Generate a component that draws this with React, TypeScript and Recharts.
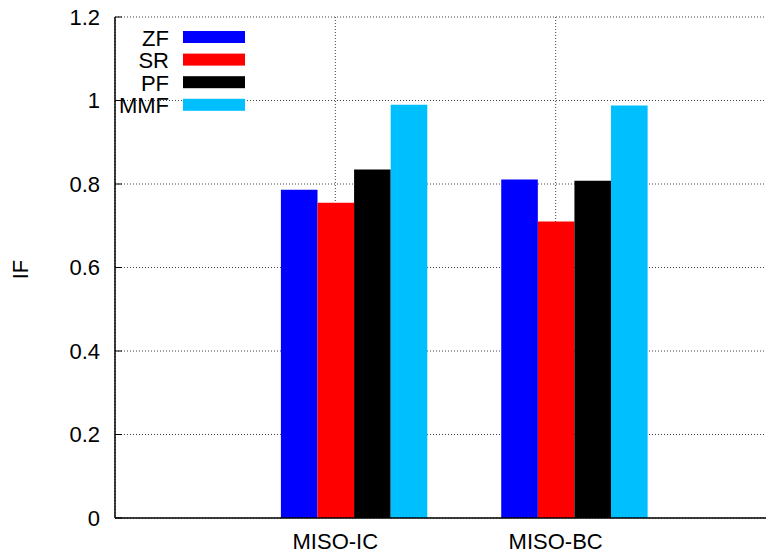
import React from "react";
import { BarChart, Bar, XAxis, YAxis, CartesianGrid } from "recharts";

const categories = ["MISO-IC", "MISO-BC"];
const seriesNames = ["ZF", "SR", "PF", "MMF"];
const zf = [0.786, 0.811];
const sr = [0.755, 0.71];
const pf = [0.835, 0.808];
const mmf = [0.99, 0.988];
const yTicks = [0, 0.2, 0.4, 0.6, 0.8, 1, 1.2];

const COLORS = ["#0000ff", "#ff0000", "#000000", "#00bfff"];
const FONT = "'Liberation Sans', Arial, Helvetica, sans-serif";
const FS = 22;

const data = categories.map((c, i) => ({ x: i, ZF: zf[i], SR: sr[i], PF: pf[i], MMF: mmf[i] }));

// bars sit a bit right of the category tick, like the gnuplot original
const SHIFT = 0.085;

const KeyBox = () => (
  <svg width={766} height={554} style={{ position: "absolute", left: 0, top: 0, pointerEvents: "none" }}>
    {seriesNames.map((name, i) => {
      const cy = 37 + i * 22.6;
      return (
        <g key={name}>
          <text x={169} y={cy + 1} textAnchor="end" dominantBaseline="central" fontSize={FS} fontFamily={FONT} fill="#000">
            {name}
          </text>
          <rect x={183} y={cy - 6} width={62} height={12} fill={COLORS[i]} />
        </g>
      );
    })}
  </svg>
);

const App = () => {
  const tickStyle = { fill: "#000", fontSize: FS, fontFamily: FONT };
  return (
    <div style={{ position: "absolute", left: 0, top: 0, width: 766, height: 554, overflow: "hidden", background: "#fff" }}>
      <BarChart width={776} height={554} data={data} margin={{ top: 17, right: 0, bottom: 0, left: 0 }} barGap={0}>
        <CartesianGrid stroke="#444" strokeDasharray="1 2" />
        <XAxis
          dataKey="x"
          type="number"
          domain={[-1, 2]}
          ticks={[0, 1]}
          tickFormatter={(v) => categories[v] ?? ""}
          height={36}
          tickSize={0}
          tickMargin={15}
          tick={tickStyle}
          axisLine={{ stroke: "#000", strokeWidth: 1.5 }}
        />
        <XAxis
          xAxisId="top"
          orientation="top"
          dataKey="x"
          type="number"
          domain={[-1, 2]}
          ticks={[0, 1]}
          tickFormatter={() => ""}
          height={0}
          tickSize={-7}
          tickLine={{ stroke: "#000" }}
          axisLine={{ stroke: "#000", strokeWidth: 1.5 }}
        />
        <XAxis xAxisId="bars" dataKey="x" type="number" domain={[-1 - SHIFT, 2 - SHIFT]} ticks={[0, 1]} hide height={0} />
        <YAxis
          domain={[0, 1.2]}
          ticks={yTicks}
          width={115}
          tickSize={-7}
          tickMargin={22}
          tick={tickStyle}
          tickFormatter={(v) => String(+Number(v).toFixed(1))}
          tickLine={{ stroke: "#000" }}
          axisLine={{ stroke: "#000", strokeWidth: 1.5 }}
          label={{
            content: ({ viewBox }: any) => (
              <text
                x={viewBox.x + 20}
                y={viewBox.y + viewBox.height / 2 + 2}
                transform={`rotate(-90 ${viewBox.x + 20} ${viewBox.y + viewBox.height / 2 + 2})`}
                textAnchor="middle"
                dominantBaseline="central"
                fontSize={FS}
                fontFamily={FONT}
                fill="#000"
              >
                IF
              </text>
            ),
          }}
        />
        {seriesNames.map((name, i) => (
          <Bar key={name} xAxisId="bars" dataKey={name} fill={COLORS[i]} barSize={36.6} isAnimationActive={false} />
        ))}
      </BarChart>
      <KeyBox />
    </div>
  );
};

export default App;
